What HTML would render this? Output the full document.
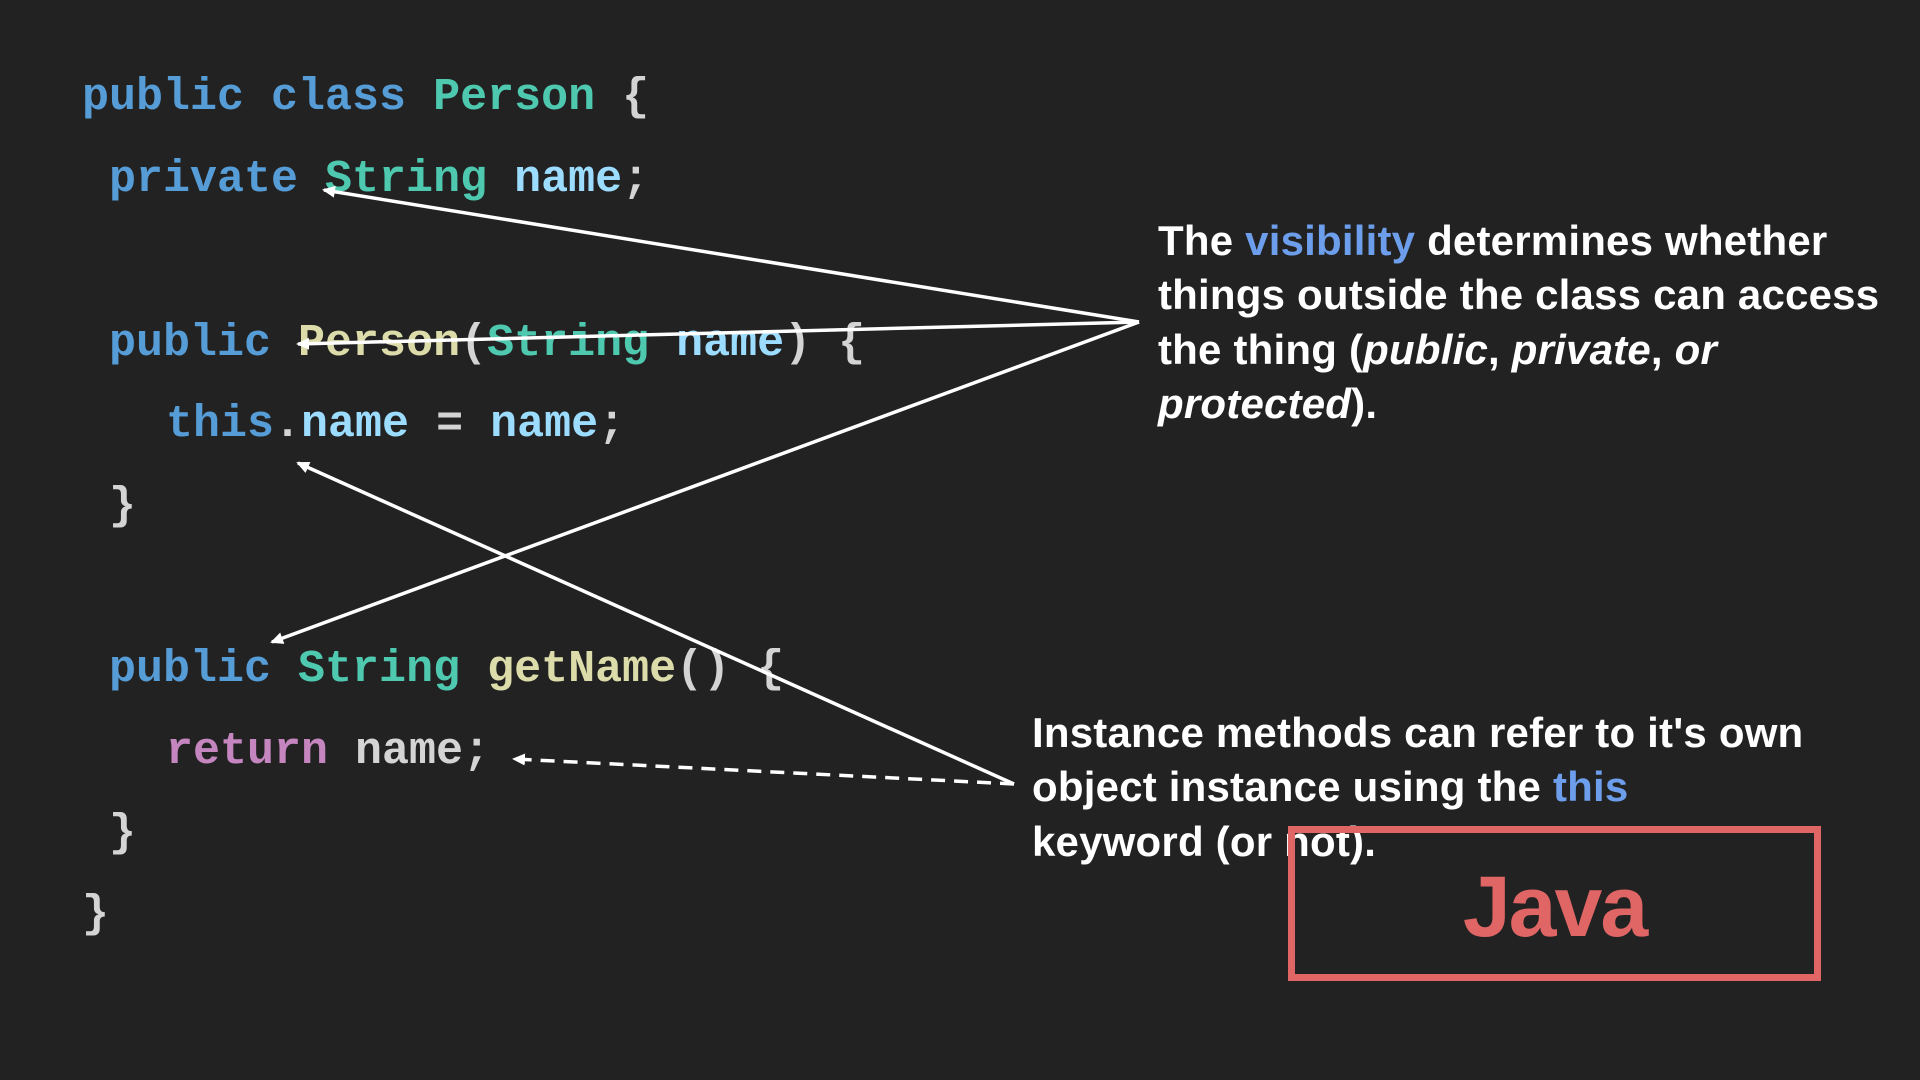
<!DOCTYPE html>
<html><head><style>
html,body{margin:0;padding:0;background:#222222;width:1920px;height:1080px;overflow:hidden;position:relative}
.c{position:absolute;font-family:"Liberation Mono",monospace;font-weight:bold;font-size:45px;white-space:pre;line-height:50px;color:#d4d4d4}
.k{color:#569cd6}.t{color:#4ec9b0}.n{color:#9cdcfe}.m{color:#dcdcaa}.r{color:#c586c0}
.tx{position:absolute;font-family:"Liberation Sans",sans-serif;font-weight:bold;font-size:42px;color:#fff;white-space:nowrap;line-height:54px;letter-spacing:0.2px}
.b{color:#6d9eeb}
</style></head><body>
<div class="c" style="left:82px;top:73px"><span class="k">public class</span> <span class="t">Person</span> {</div>
<div class="c" style="left:109px;top:155px"><span class="k">private</span> <span class="t">String</span> <span class="n">name</span>;</div>
<div class="c" style="left:109px;top:319px"><span class="k">public</span> <span class="m">Person</span>(<span class="t">String</span> <span class="n">name</span>) {</div>
<div class="c" style="left:166px;top:400px"><span class="k">this</span>.<span class="n">name</span> = <span class="n">name</span>;</div>
<div class="c" style="left:109px;top:482px">}</div>
<div class="c" style="left:109px;top:645px"><span class="k">public</span> <span class="t">String</span> <span class="m">getName</span>() {</div>
<div class="c" style="left:166px;top:727px"><span class="r">return</span> name;</div>
<div class="c" style="left:109px;top:809px">}</div>
<div class="c" style="left:82px;top:890px">}</div>

<div class="tx" style="left:1158px;top:214px">The <span class="b">visibility</span> determines whether</div>
<div class="tx" style="left:1158px;top:268px">things outside the class can access</div>
<div class="tx" style="left:1158px;top:323px">the thing (<i>public</i>, <i>private</i>, <i>or</i></div>
<div class="tx" style="left:1158px;top:377px"><i>protected</i>).</div>

<div class="tx" style="left:1032px;top:706px">Instance methods can refer to it's own</div>
<div class="tx" style="left:1032px;top:760px">object instance using the <span class="b">this</span></div>
<div class="tx" style="left:1032px;top:815px">keyword (or not).</div>

<div style="position:absolute;left:1288px;top:826px;width:519px;height:141px;border:7px solid #e06666"></div>
<div style="position:absolute;left:1288px;top:842px;width:533px;text-align:center;font-family:'Liberation Sans',sans-serif;font-weight:bold;font-size:86px;color:#e06666;line-height:130px;letter-spacing:-2px">Java</div>

<svg width="1920" height="1080" style="position:absolute;left:0;top:0">
<defs><marker id="a" markerWidth="14" markerHeight="14" refX="11" refY="7" orient="auto" markerUnits="userSpaceOnUse"><path d="M0,1 L13,7 L0,13 Z" fill="#fff"/></marker></defs>
<g stroke="#fff" stroke-width="3.5" fill="none">
<line x1="1139" y1="322" x2="324" y2="190" marker-end="url(#a)"/>
<line x1="1139" y1="322" x2="298" y2="344" marker-end="url(#a)"/>
<line x1="1139" y1="322" x2="272" y2="642" marker-end="url(#a)"/>
<line x1="1014" y1="784" x2="298" y2="463" marker-end="url(#a)"/>
<line x1="1014" y1="784" x2="514" y2="759" stroke-dasharray="14,9" marker-end="url(#a)"/>
</g></svg>
</body></html>
